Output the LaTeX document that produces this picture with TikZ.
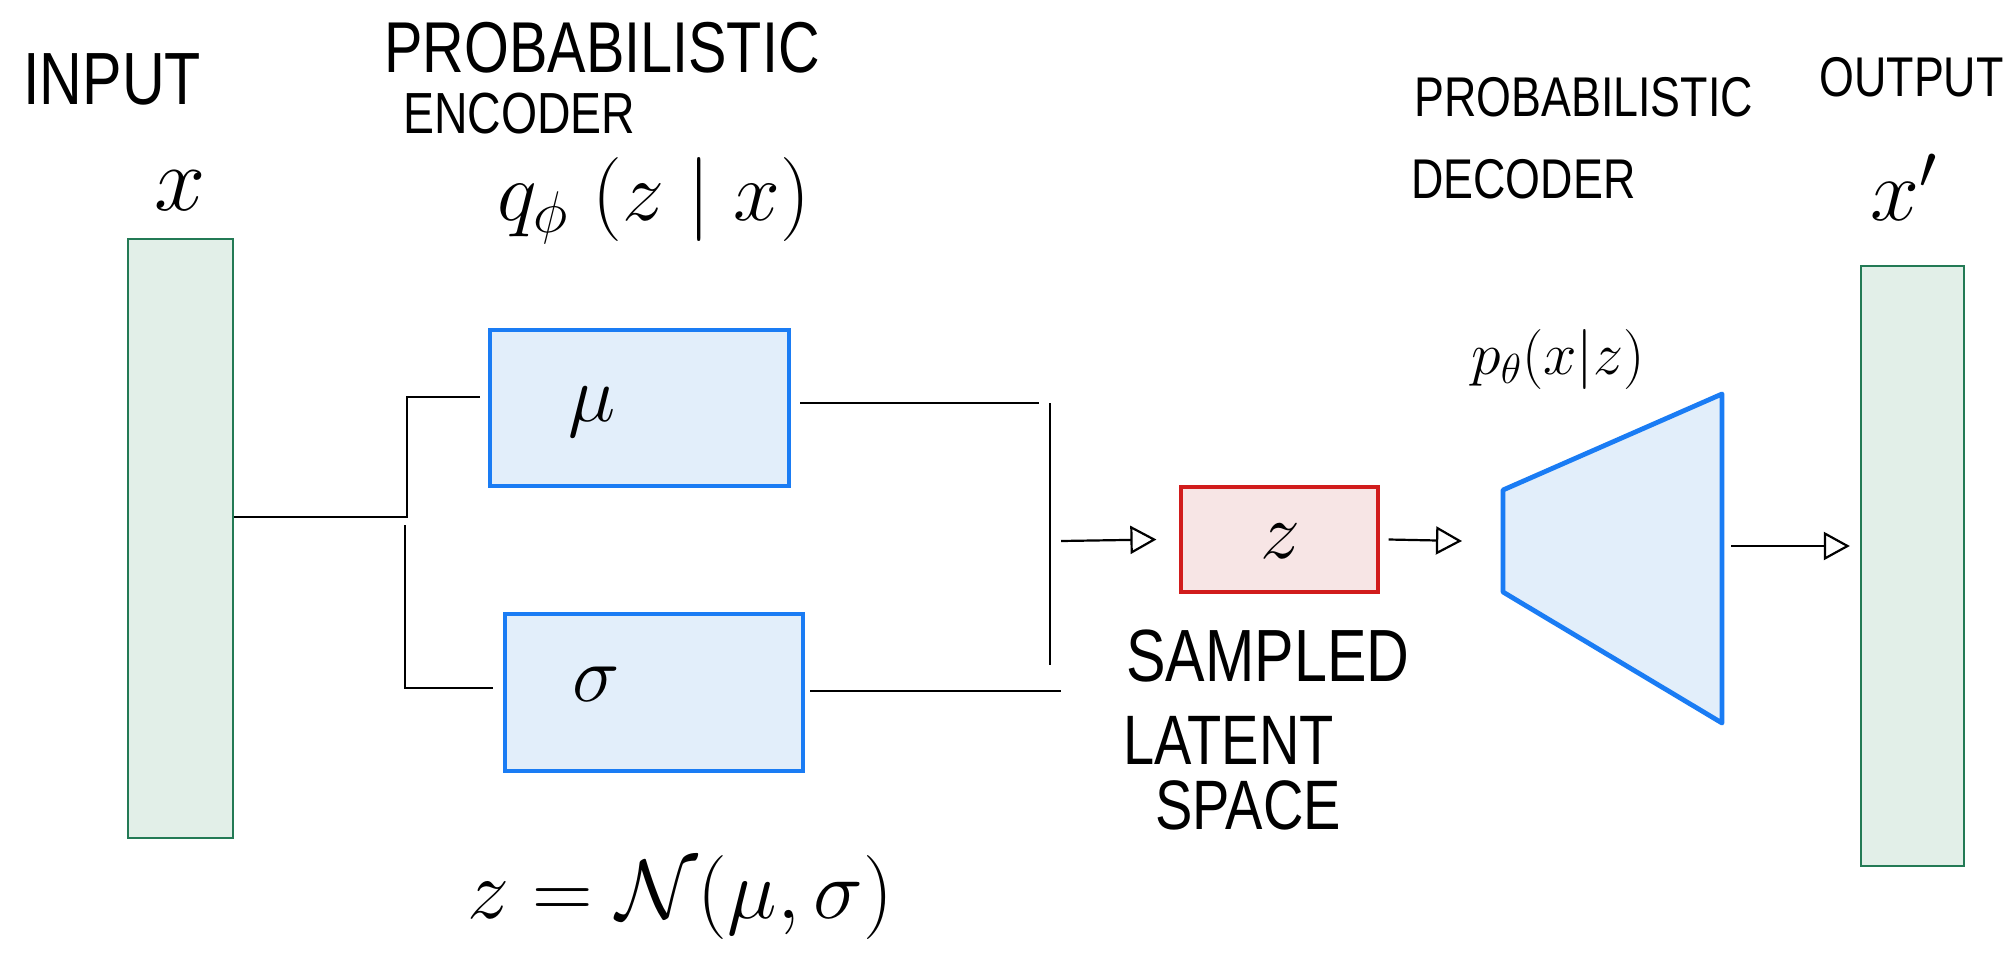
\RequirePackage{fix-cm}
\documentclass[tikz,border=0pt]{standalone}
\usepackage{fontspec}
\usetikzlibrary{arrows.meta,fit,calc}
\newfontfamily\hand[FakeStretch=0.8]{Liberation Sans}
\definecolor{barfill}{HTML}{E2EFE8}
\definecolor{barline}{HTML}{237A55}
\definecolor{encfill}{HTML}{E2EEFA}
\definecolor{encline}{HTML}{1A7CF4}
\definecolor{zfill}{HTML}{F7E5E5}
\definecolor{zline}{HTML}{D11C1C}

\begin{document}
\begin{tikzpicture}[x=0.5pt,y=-0.5pt,
  bar/.style={draw=barline, fill=barfill, line width=1.2pt, inner sep=0pt},
  encbox/.style={draw=encline, fill=encfill, line width=2.2pt, inner sep=0pt},
  zbox/.style={draw=zline, fill=zfill, line width=1.6pt, inner sep=0pt},
  wire/.style={line width=1.1pt, black},
  arr/.style={wire, -{Triangle[open, length=13pt, width=14pt, line width=1.1pt]}},
  hw/.style={font={\hand\fontsize{#1}{#1}\selectfont}, inner sep=0pt, text depth=0pt},
  mt/.style={font={\fontsize{#1}{#1}\selectfont}, inner sep=0pt},
]
\useasboundingbox (0,0) rectangle (2006,953);
\fill[white] (0,0) rectangle (2006,953);

% input and output vectors
\node[bar, fit={(128,239) (233,838)}] (inp) {};
\node[bar, fit={(1861,266) (1964,866)}] (out) {};

% encoder heads
\node[encbox, fit={(490,330) (789,486)}] (mu) {};
\node[encbox, fit={(505,614) (803,771)}] (sig) {};
\node[mt=40] (mulab) at (592,412) {$\mu$};
\node[mt=40] (siglab) at (596,684) {$\sigma$};

% sampled latent
\node[zbox, fit={(1181,487) (1378,592)}] (zb) {};
\node[mt=40] (zlab) at (1280,541) {$z$};

% decoder
\coordinate (t1) at (1503,490);
\coordinate (t2) at (1722,394);
\coordinate (t3) at (1722,723);
\coordinate (t4) at (1503,592);
\draw[draw=encline, fill=encfill, line width=2.4pt, line join=round] (t1) -- (t2) -- (t3) -- (t4) -- cycle;
\coordinate (decin) at (1503,541);
\coordinate (decout) at (1722,546);

% wiring input -> heads
\coordinate (a1) at (407,517);
\coordinate (a2) at (407,397);
\coordinate (a3) at (480,397);
\draw[wire] (inp.east |- a1) -- (a1) -- (a2) -- (a3);
\coordinate (b1) at (405,525);
\coordinate (b2) at (405,688);
\coordinate (b3) at (493,688);
\draw[wire] (b1) -- (b2) -- (b3);

% wiring heads -> sampler
\coordinate (c1) at (800,403);
\coordinate (c2) at (1039,403);
\draw[wire] (c1) -- (c2);
\coordinate (d1) at (1050,403);
\coordinate (d2) at (1050,665);
\draw[wire] (d1) -- (d2);
\coordinate (e1) at (810,691);
\coordinate (e2) at (1061,691);
\draw[wire] (e1) -- (e2);
\coordinate (f1) at (1061,541);
\draw[arr] (f1) -- ($(zb.west)+(-23,0)$);
\draw[arr] ($(zb.east)+(9,0)$) -- ($(decin)+(-41,0)$);
\draw[arr] ($(decout)+(9,0)$) -- ($(out.west |- decout)+(-10,0)$);

% labels
\node[hw=37, anchor=base west] (inputtxt) at (23,104) {INPUT};
\node[mt=46] (xlab) at (180,191) {$x$};
\node[hw=36, anchor=base west] (enc1) at (384,72) {PROBABILISTIC};
\node[hw=29, anchor=base west] (enc2) at (403,133) {ENCODER};
\node[mt=42, anchor=base west] (qlab) at (497,220) {$q_\phi\;(z\;|\;x)$};
\node[hw=28, anchor=base west] (dec1) at (1414,116) {PROBABILISTIC};
\node[hw=28, anchor=base west] (dec2) at (1411,198) {DECODER};
\node[hw=28, anchor=base west] (outputtxt) at (1819,96) {OUTPUT};
\node[mt=44, anchor=base west] (xplab) at (1870,220) {$x'$};
\node[mt=30, anchor=base west] (plab) at (1471,374) {$p_\theta(x|z)$};
\node[hw=37, anchor=base west] (s1) at (1126,681) {SAMPLED};
\node[hw=35, anchor=base west] (s2) at (1123,764) {LATENT};
\node[hw=35, anchor=base west] (s3) at (1155,829) {SPACE};
\node[mt=42, anchor=base west] (zeq) at (467,918) {$z=\mathcal{N}(\mu,\sigma)$};
\end{tikzpicture}
\end{document}
